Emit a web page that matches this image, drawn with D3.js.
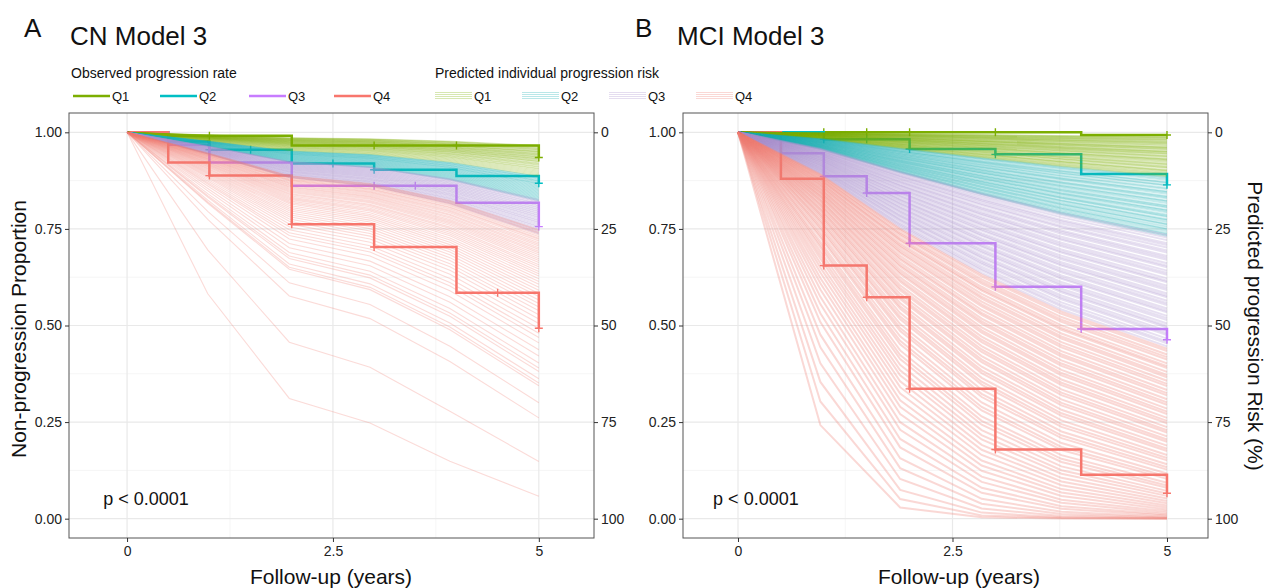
<!DOCTYPE html>
<html>
<head>
<meta charset="utf-8">
<script src="https://cdn.jsdelivr.net/npm/d3@7"></script>
<style>
  body { margin: 0; background: #fff; }
  svg { display: block; }
  text { font-family: "Liberation Sans", Arial, Helvetica, sans-serif; }
</style>
</head>
<body>
<svg id="chart" width="1268" height="588"></svg>
<script>
// ---------- shared categories, colours and ticks ----------
const groups = ["Q1", "Q2", "Q3", "Q4"];
const groupColors = ["#7CAE00", "#00BFC4", "#C77CFF", "#F8766D"];
// muted versions used for the thin individual prediction lines
const predColors = ["#7CAE00", "#1AAFB2", "#A890CC", "#F07E74"];
const xTicks = [0, 2.5, 5];
const yTicks = [0, 0.25, 0.5, 0.75, 1];
const riskTicks = [0, 25, 50, 75, 100];

// ---------- CN: observed Kaplan–Meier steps ----------
const cnQ1Times = [0, 0.5, 2, 5];
const cnQ1Surv  = [1, 0.991, 0.966, 0.935];
const cnQ1Cens  = [1, 3, 4, 5];
const cnQ2Times = [0, 0.5, 1, 2, 3, 4, 5];
const cnQ2Surv  = [1, 0.976, 0.955, 0.919, 0.903, 0.887, 0.868];
const cnQ2Cens  = [1, 1.5, 2.5, 3, 5];
const cnQ3Times = [0, 0.5, 1, 2, 4, 5];
const cnQ3Surv  = [1, 0.968, 0.922, 0.862, 0.818, 0.756];
const cnQ3Cens  = [3, 3.5, 5];
const cnQ4Times = [0, 0.5, 1, 2, 3, 4, 5];
const cnQ4Surv  = [1, 0.922, 0.888, 0.762, 0.703, 0.585, 0.493];
const cnQ4Cens  = [1, 2, 3, 4.5, 5];

// ---------- CN: predicted individual curves ----------
// evaluation times and the share of the 5-year cumulative hazard reached at each
const cnKnots = [0, 0.98, 1.97, 2.95, 3.92, 5];
const cnHazShare = [0, 0.19, 0.41, 0.49, 0.67, 1];
// 5-year non-progression probability of each individual, by risk quartile
const cnPredQ1 = [0.966, 0.964, 0.963, 0.961, 0.959, 0.958, 0.956, 0.955, 0.953, 0.951, 0.950, 0.949, 0.947, 0.945, 0.944, 0.942, 0.941, 0.939, 0.937, 0.936, 0.934, 0.932, 0.931, 0.929, 0.927, 0.925, 0.924, 0.921, 0.919, 0.917, 0.915, 0.912, 0.910, 0.907, 0.905, 0.902, 0.899, 0.896, 0.893, 0.890, 0.887];
const cnPredQ2 = [0.886, 0.884, 0.882, 0.881, 0.879, 0.877, 0.875, 0.874, 0.872, 0.870, 0.868, 0.867, 0.865, 0.863, 0.861, 0.859, 0.857, 0.855, 0.853, 0.851, 0.849, 0.847, 0.845, 0.843, 0.841, 0.839, 0.837, 0.835, 0.833, 0.831, 0.829, 0.827, 0.825, 0.823];
const cnPredQ3 = [0.826, 0.823, 0.821, 0.819, 0.816, 0.814, 0.811, 0.809, 0.806, 0.804, 0.801, 0.799, 0.796, 0.794, 0.791, 0.789, 0.786, 0.784, 0.781, 0.779, 0.776, 0.773, 0.771, 0.768, 0.766, 0.763, 0.760, 0.757, 0.755, 0.752, 0.749, 0.746, 0.743, 0.740, 0.737];
const cnPredQ4 = [0.748, 0.745, 0.741, 0.738, 0.734, 0.730, 0.726, 0.723, 0.719, 0.714, 0.710, 0.706, 0.701, 0.697, 0.692, 0.688, 0.683, 0.678, 0.673, 0.668, 0.663, 0.657, 0.652, 0.646, 0.640, 0.634, 0.628, 0.621, 0.614, 0.607, 0.599, 0.591, 0.583, 0.575, 0.566, 0.557, 0.548, 0.538, 0.528, 0.517, 0.505, 0.492, 0.480, 0.469, 0.455, 0.437, 0.421, 0.403, 0.390, 0.381, 0.362, 0.351, 0.344, 0.300, 0.261, 0.148, 0.058];

// ---------- MCI: observed Kaplan–Meier steps ----------
const mciQ1Times = [0, 4];
const mciQ1Surv  = [1, 0.993];
const mciQ1Cens  = [1, 1.5, 2, 3, 5];
const mciQ2Times = [0, 1, 2, 3, 4, 5];
const mciQ2Surv  = [1, 0.982, 0.957, 0.943, 0.892, 0.864];
const mciQ2Cens  = [1, 1.5, 2, 3, 5];
const mciQ3Times = [0, 0.5, 1, 1.5, 2, 3, 4, 5];
const mciQ3Surv  = [1, 0.946, 0.886, 0.843, 0.713, 0.600, 0.491, 0.463];
const mciQ3Cens  = [1, 1.5, 2, 3, 4, 5];
const mciQ4Times = [0, 0.5, 1, 1.5, 2, 3, 4, 5];
const mciQ4Surv  = [1, 0.880, 0.655, 0.573, 0.336, 0.179, 0.114, 0.066];
const mciQ4Cens  = [1, 1.5, 2, 3, 5];

// ---------- MCI: predicted individual curves ----------
const mciKnots = [0, 0.96, 1.89, 2.84, 3.77, 5];
const mciHazShare = [0, 0.14, 0.35, 0.56, 0.76, 1];
const mciPredQ1 = [0.988, 0.987, 0.985, 0.982, 0.981, 0.979, 0.976, 0.975, 0.972, 0.971, 0.968, 0.966, 0.962, 0.961, 0.959, 0.957, 0.955, 0.951, 0.950, 0.948, 0.945, 0.944, 0.940, 0.938, 0.936, 0.932, 0.930, 0.928, 0.925, 0.922, 0.918, 0.917, 0.913, 0.910, 0.908, 0.903, 0.901, 0.899, 0.895, 0.892, 0.889, 0.886];
const mciPredQ2 = [0.884, 0.881, 0.877, 0.871, 0.869, 0.864, 0.862, 0.856, 0.853, 0.847, 0.845, 0.841, 0.835, 0.832, 0.829, 0.823, 0.821, 0.817, 0.811, 0.808, 0.805, 0.799, 0.797, 0.793, 0.787, 0.784, 0.781, 0.775, 0.773, 0.768, 0.763, 0.761, 0.756, 0.751, 0.749, 0.744, 0.739, 0.736, 0.732];
const mciPredQ3 = [0.734, 0.728, 0.721, 0.713, 0.708, 0.702, 0.694, 0.689, 0.680, 0.675, 0.670, 0.661, 0.655, 0.651, 0.642, 0.636, 0.631, 0.622, 0.616, 0.612, 0.603, 0.597, 0.592, 0.583, 0.577, 0.573, 0.564, 0.558, 0.553, 0.544, 0.538, 0.534, 0.525, 0.519, 0.514, 0.505, 0.499, 0.495, 0.486, 0.480, 0.475, 0.466, 0.459, 0.454, 0.446];
const mciPredQ4 = [0.440, 0.434, 0.425, 0.418, 0.412, 0.402, 0.395, 0.390, 0.380, 0.372, 0.366, 0.357, 0.349, 0.343, 0.333, 0.325, 0.319, 0.309, 0.301, 0.295, 0.285, 0.277, 0.271, 0.261, 0.253, 0.247, 0.237, 0.229, 0.223, 0.213, 0.205, 0.199, 0.189, 0.181, 0.175, 0.165, 0.157, 0.151, 0.141, 0.133, 0.127, 0.117, 0.109, 0.103, 0.093, 0.086, 0.080, 0.072, 0.065, 0.059, 0.052, 0.046, 0.040, 0.034, 0.029, 0.024, 0.019, 0.015, 0.011, 0.008, 0.005, 0.003, 0.0015, 0.0006, 0.0002, 0.00004];

// ---------- assemble per panel ----------
const panels = [
  {
    letter: "A", title: "CN Model 3",
    left: 69, right: 594, xDomain: [-0.705, 5.67],
    letterX: 24, titleX: 70, xTitleX: 331,
    km: [
      { times: cnQ1Times, surv: cnQ1Surv, cens: cnQ1Cens },
      { times: cnQ2Times, surv: cnQ2Surv, cens: cnQ2Cens },
      { times: cnQ3Times, surv: cnQ3Surv, cens: cnQ3Cens },
      { times: cnQ4Times, surv: cnQ4Surv, cens: cnQ4Cens }
    ],
    knots: cnKnots, share: cnHazShare,
    pred: [cnPredQ1, cnPredQ2, cnPredQ3, cnPredQ4],
    predOpacity: [0.28, 0.28, 0.32, 0.28],
    predWidth: [1, 1, 1, 1.1],
    rightTitle: false
  },
  {
    letter: "B", title: "MCI Model 3",
    left: 683, right: 1208, xDomain: [-0.641, 5.478],
    letterX: 635, titleX: 677, xTitleX: 959,
    km: [
      { times: mciQ1Times, surv: mciQ1Surv, cens: mciQ1Cens },
      { times: mciQ2Times, surv: mciQ2Surv, cens: mciQ2Cens },
      { times: mciQ3Times, surv: mciQ3Surv, cens: mciQ3Cens },
      { times: mciQ4Times, surv: mciQ4Surv, cens: mciQ4Cens }
    ],
    knots: mciKnots, share: mciHazShare,
    pred: [mciPredQ1, mciPredQ2, mciPredQ3, mciPredQ4],
    predOpacity: [0.26, 0.26, 0.28, 0.3],
    predWidth: [1.6, 1.8, 2, 2],
    rightTitle: true
  }
];

const svg = d3.select("#chart");
const plotTop = 113, plotBottom = 538;
const fmt2 = d3.format(".2f");

// step value of a KM curve at time t
function survAt(times, surv, t) {
  let v = surv[0];
  for (let i = 0; i < times.length; i++) if (times[i] <= t) v = surv[i];
  return v;
}

panels.forEach(p => {
  const x = d3.scaleLinear().domain(p.xDomain).range([p.left, p.right]);
  const y = d3.scaleLinear().domain([-0.05, 1.05]).range([plotBottom, plotTop]);
  const risk = d3.scaleLinear().domain([105, -5]).range([plotBottom, plotTop]);
  const g = svg.append("g");

  // clip so thick prediction lines stay inside the panel
  const clipId = "clip-" + p.letter;
  svg.append("clipPath").attr("id", clipId).append("rect")
    .attr("x", p.left).attr("y", plotTop)
    .attr("width", p.right - p.left).attr("height", plotBottom - plotTop);

  // grid
  const xMinor = [1.25, 3.75];
  const yMinor = [0.125, 0.375, 0.625, 0.875];
  g.selectAll(".vminor").data(xMinor).join("line")
    .attr("x1", d => x(d)).attr("x2", d => x(d)).attr("y1", plotTop).attr("y2", plotBottom)
    .attr("stroke", "#F3F3F3").attr("stroke-width", 0.8);
  g.selectAll(".hminor").data(yMinor).join("line")
    .attr("y1", d => y(d)).attr("y2", d => y(d)).attr("x1", p.left).attr("x2", p.right)
    .attr("stroke", "#F3F3F3").attr("stroke-width", 0.8);
  g.selectAll(".vmajor").data(xTicks).join("line")
    .attr("x1", d => x(d)).attr("x2", d => x(d)).attr("y1", plotTop).attr("y2", plotBottom)
    .attr("stroke", "#E9E9E9").attr("stroke-width", 1.2);
  g.selectAll(".hmajor").data(yTicks).join("line")
    .attr("y1", d => y(d)).attr("y2", d => y(d)).attr("x1", p.left).attr("x2", p.right)
    .attr("stroke", "#E9E9E9").attr("stroke-width", 1.2);

  // observed KM curves
  const step = d3.line().x(d => x(d[0])).y(d => y(d[1])).curve(d3.curveStepAfter);
  p.km.forEach((k, i) => {
    const pts = k.times.map((t, j) => [t, k.surv[j]]);
    if (k.times[k.times.length - 1] < 5) pts.push([5, k.surv[k.surv.length - 1]]);
    g.append("path").attr("d", step(pts)).attr("fill", "none")
      .attr("stroke", groupColors[i]).attr("stroke-width", 2.5);
    g.append("g").selectAll("path").data(k.cens).join("path")
      .attr("d", t => {
        const cx = x(t), cy = y(survAt(k.times, k.surv, t));
        return `M${cx - 4},${cy}H${cx + 4}M${cx},${cy - 4}V${cy + 4}`;
      })
      .attr("stroke", groupColors[i]).attr("stroke-width", 1.4).attr("fill", "none");
  });

  // predicted individual curves
  const curve = d3.line().x(d => x(d[0])).y(d => y(d[1]));
  const predLayer = g.append("g").attr("clip-path", `url(#${clipId})`);
  p.pred.forEach((list, i) => {
    predLayer.append("g").selectAll("path").data(list).join("path")
      .attr("d", s5 => curve(p.knots.map((t, j) => [t, Math.pow(s5, p.share[j])])))
      .attr("fill", "none")
      .attr("stroke", predColors[i])
      .attr("stroke-opacity", p.predOpacity[i])
      .attr("stroke-width", p.predWidth[i]);
  });

  // panel border
  g.append("rect").attr("x", p.left).attr("y", plotTop)
    .attr("width", p.right - p.left).attr("height", plotBottom - plotTop)
    .attr("fill", "none").attr("stroke", "#555").attr("stroke-width", 1);

  // axes
  const styleAxis = sel => {
    sel.select(".domain").remove();
    sel.selectAll(".tick line").attr("stroke", "#333");
    sel.selectAll(".tick text").attr("fill", "#222").style("font-size", "14px")
      .style("font-family", '"Liberation Sans", Arial, sans-serif');
  };
  g.append("g").attr("transform", `translate(${p.left},0)`)
    .call(d3.axisLeft(y).tickValues(yTicks).tickFormat(fmt2).tickSize(4).tickPadding(3))
    .call(styleAxis);
  g.append("g").attr("transform", `translate(${p.right},0)`)
    .call(d3.axisRight(risk).tickValues(riskTicks).tickSize(4).tickPadding(3))
    .call(styleAxis);
  g.append("g").attr("transform", `translate(0,${plotBottom})`)
    .call(d3.axisBottom(x).tickValues(xTicks).tickFormat(d => String(d)).tickSize(4).tickPadding(4))
    .call(styleAxis);

  // p-value annotation
  g.append("text").attr("x", x(-0.29)).attr("y", 505)
    .style("font-size", "18px").attr("fill", "#111").text("p < 0.0001");

  // titles
  svg.append("text").attr("x", p.letterX).attr("y", 37)
    .style("font-size", "26px").attr("fill", "#111").text(p.letter);
  svg.append("text").attr("x", p.titleX).attr("y", 45)
    .style("font-size", "26px").attr("fill", "#111").text(p.title);
  svg.append("text").attr("x", p.xTitleX).attr("y", 584).attr("text-anchor", "middle")
    .style("font-size", "21px").attr("fill", "#111").text("Follow-up (years)");
  if (p.rightTitle) {
    svg.append("text").attr("transform", `translate(1248,326) rotate(90)`)
      .attr("text-anchor", "middle").style("font-size", "21px").attr("fill", "#111")
      .text("Predicted progression Risk (%)");
  }
});

// left axis title
svg.append("text").attr("transform", "translate(26,329) rotate(-90)")
  .attr("text-anchor", "middle").style("font-size", "21px").attr("fill", "#111")
  .text("Non-progression Proportion");

// ---------- legends ----------
const legend = svg.append("g");
legend.append("text").attr("x", 71).attr("y", 78).style("font-size", "14px").attr("fill", "#111")
  .text("Observed progression rate");
legend.append("text").attr("x", 435).attr("y", 78).style("font-size", "14px").attr("fill", "#111")
  .text("Predicted individual progression risk");

const obsKeyX = [73, 160, 249, 334];
const predKeyX = [435, 522, 609, 696];
const keyY = 96;
groups.forEach((q, i) => {
  legend.append("line").attr("x1", obsKeyX[i]).attr("x2", obsKeyX[i] + 37)
    .attr("y1", keyY).attr("y2", keyY).attr("stroke", groupColors[i]).attr("stroke-width", 2.5);
  legend.append("text").attr("x", obsKeyX[i] + 39).attr("y", keyY + 5)
    .style("font-size", "13px").attr("fill", "#111").text(q);
  [-3.5, -1.5, 0.5, 2.5].forEach(o => {
    legend.append("line").attr("x1", predKeyX[i]).attr("x2", predKeyX[i] + 37)
      .attr("y1", keyY + o).attr("y2", keyY + o).attr("stroke", predColors[i])
      .attr("stroke-opacity", 0.3).attr("stroke-width", 1.2);
  });
  legend.append("text").attr("x", predKeyX[i] + 39).attr("y", keyY + 5)
    .style("font-size", "13px").attr("fill", "#111").text(q);
});
</script>
</body>
</html>
